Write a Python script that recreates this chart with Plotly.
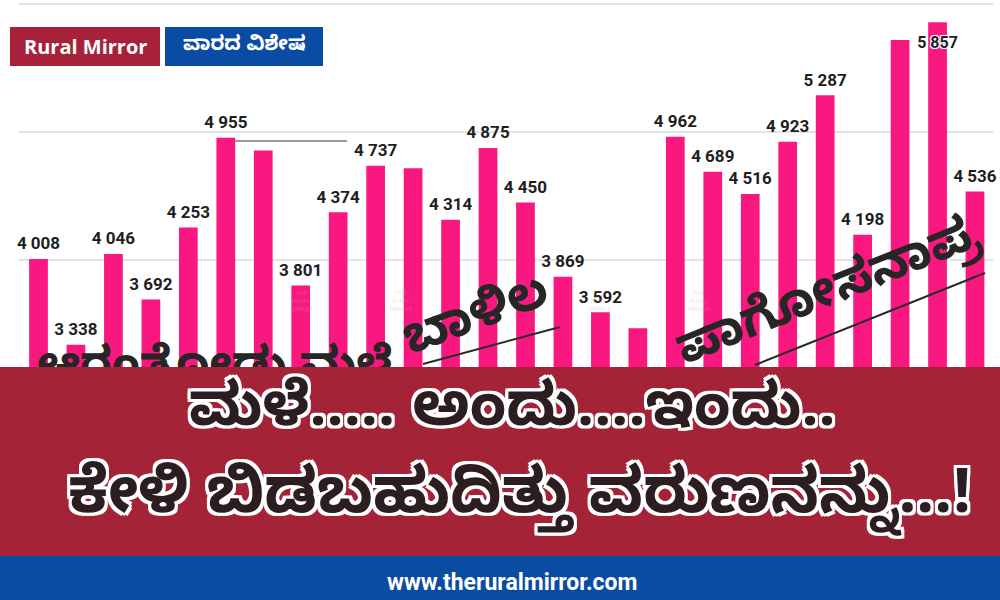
import plotly.graph_objects as go

# ---- data ----
values = [4008, 3338, 4046, 3692, 4253, 4955, 4855, 3801, 4374, 4737, 4716, 4314, 4875,
          4450, 3869, 3592, 3466, 4962, 4689, 4516, 4923, 5287, 4198, 5719, 5857, 4536]
show_label = [1, 1, 1, 1, 1, 1, 0, 1, 1, 1, 0, 1, 1,
              1, 1, 1, 0, 1, 1, 1, 1, 1, 1, 0, 2, 1]   # 2 = label drawn inside bar
categories = list(range(len(values)))
grid_ticks = [4000, 5000, 6000]

title_line1 = "ಮಳೆ..... ಅಂದು....ಇಂದು.."
title_line2 = "ಕೇಳಿ ಬಿಡಬಹುದಿತ್ತು ವರುಣನನ್ನು...!"
badge_left = "Rural Mirror"
badge_right = "ವಾರದ ವಿಶೇಷ"
site = "www.theruralmirror.com"
hand_words = ["ಬಾಳಿಲ", "ಪಾಗೋಸನಾಪ್ರ"]
hidden_word = "ಆರಂತೋಡು ಮಳೆ"

def fmt(v):
    return f"{v:,}".replace(",", " ")

W, H = 1000, 600
ML, MR = 19, 7
PW = W - ML - MR

def px(x):
    return (x - ML) / PW

def py(y):
    return 1 - y / H

BAR = "#F8187F"
RED = "#A52337"
BLUE = "#0B4CA3"
KN = "Noto Sans Kannada, Noto Sans, Noto Sans CJK SC, sans-serif"

fig = go.Figure()
fig.add_trace(go.Bar(x=categories, y=values, marker=dict(color=BAR, line=dict(width=0)),
                     hoverinfo="skip"))

out_x = [c for c, s in zip(categories, show_label) if s == 1]
out_y = [v for v, s in zip(values, show_label) if s == 1]
fig.add_trace(go.Scatter(x=out_x, y=out_y, mode="markers+text", cliponaxis=False,
                         text=[fmt(v) for v in out_y], textposition="top center",
                         marker=dict(size=7, opacity=0),
                         textfont=dict(family="Roboto", size=17, color="#1e1e1e", weight="bold"),
                         hoverinfo="skip"))
in_x = [c for c, s in zip(categories, show_label) if s == 2]
in_y = [v for v, s in zip(values, show_label) if s == 2]
fig.add_trace(go.Scatter(x=in_x, y=in_y, mode="markers+text", cliponaxis=False,
                         text=[fmt(v) for v in in_y], textposition="bottom center",
                         marker=dict(size=20, opacity=0),
                         textfont=dict(family="Roboto", size=16, color="#1e1e1e", weight="bold",
                                       shadow="1px 1px 0 #fff, -1px -1px 0 #fff, 1px -1px 0 #fff, -1px 1px 0 #fff"),
                         hoverinfo="skip"))
# partially hidden handwritten word (under the banner)
fig.add_trace(go.Scatter(x=[4.7], y=[3160], mode="text", text=[hidden_word],
                         textfont=dict(family=KN, size=46, color="#262626", weight="bold"),
                         hoverinfo="skip"))

shapes = []
shapes.append(dict(type="line", xref="paper", yref="paper", x0=px(235), x1=px(347),
                   y0=py(141), y1=py(141), line=dict(color="#9a9a9a", width=2), layer="above"))
shapes.append(dict(type="line", xref="paper", yref="paper", x0=px(423), x1=px(560),
                   y0=py(364), y1=py(327), line=dict(color="#2a2a2a", width=2), layer="above"))
shapes.append(dict(type="line", xref="paper", yref="paper", x0=px(755), x1=px(985),
                   y0=py(365), y1=py(273), line=dict(color="#2a2a2a", width=2), layer="above"))
shapes.append(dict(type="rect", xref="paper", yref="paper", x0=px(0), x1=px(W),
                   y0=py(556), y1=py(367), fillcolor=RED, line=dict(width=0), layer="above"))
shapes.append(dict(type="rect", xref="paper", yref="paper", x0=px(0), x1=px(W),
                   y0=py(H), y1=py(556), fillcolor=BLUE, line=dict(width=0), layer="above"))
shapes.append(dict(type="rect", xref="paper", yref="paper", x0=px(10), x1=px(160),
                   y0=py(66), y1=py(27), fillcolor="#A8213A", line=dict(width=0), layer="above"))
shapes.append(dict(type="rect", xref="paper", yref="paper", x0=px(165), x1=px(323),
                   y0=py(66), y1=py(27), fillcolor="#0A4BA3", line=dict(width=0), layer="above"))

outline = ", ".join(f"{dx}px {dy}px 0 #fff" for dx in (-3, 0, 3) for dy in (-3, 0, 3) if dx or dy)

def note(text, x, y, font, angle=0):
    return dict(text=text, xref="paper", yref="paper", x=px(x), y=py(y), showarrow=False,
                xanchor="center", yanchor="middle", textangle=angle, font=font)

ann = []
ann.append(note(badge_left, 85, 46.5, dict(family="Open Sans", size=20, color="white", weight="bold")))
ann.append(note(badge_right, 244, 46.5, dict(family=KN, size=20, color="white", weight="bold")))
ann.append(note(hand_words[0], 478, 322, dict(family=KN, size=50, color="#262626", weight="bold"), -20))
ann.append(note(hand_words[1], 830, 298, dict(family=KN, size=50, color="#262626", weight="bold"), -22))
ann.append(note(title_line1, 512, 417,
                dict(family=KN, size=60, color="#2b1d20", weight="bold", shadow=outline)))
ann.append(note(title_line2, 520, 503,
                dict(family=KN, size=63, color="#2b1d20", weight="bold", shadow=outline)))
ann.append(note(site, 512, 582, dict(family="Roboto", size=23, color="white", weight="bold")))
for wx in (301, 401, 600, 699):
    ann.append(note("THE<br>RURAL<br>MIRROR", wx, 300,
                    dict(family="Roboto", size=6, color="rgba(200,170,175,0.35)")))

ppu = 37.46
x0 = -(38.5 - ML) / ppu
x1 = x0 + PW / ppu
ypu = 0.128
y_top = 4000 + 260 / ypu
y_bot = 4000 - (H - 260) / ypu

fig.update_layout(
    width=W, height=H, margin=dict(l=ML, r=MR, t=0, b=0),
    paper_bgcolor="white", plot_bgcolor="white", showlegend=False,
    bargap=0.5,
    xaxis=dict(range=[x0, x1], showgrid=False, showticklabels=False, zeroline=False,
               showline=False, ticks=""),
    yaxis=dict(range=[y_bot, y_top], tickvals=grid_ticks, showticklabels=False,
               showgrid=True, gridcolor="#e4e4e4", gridwidth=1.5, zeroline=False, ticks=""),
    shapes=shapes, annotations=ann,
)
fig.write_html("out.html", config={"displayModeBar": False},
               post_script="document.body.style.margin='0';document.body.style.overflow='hidden';")
